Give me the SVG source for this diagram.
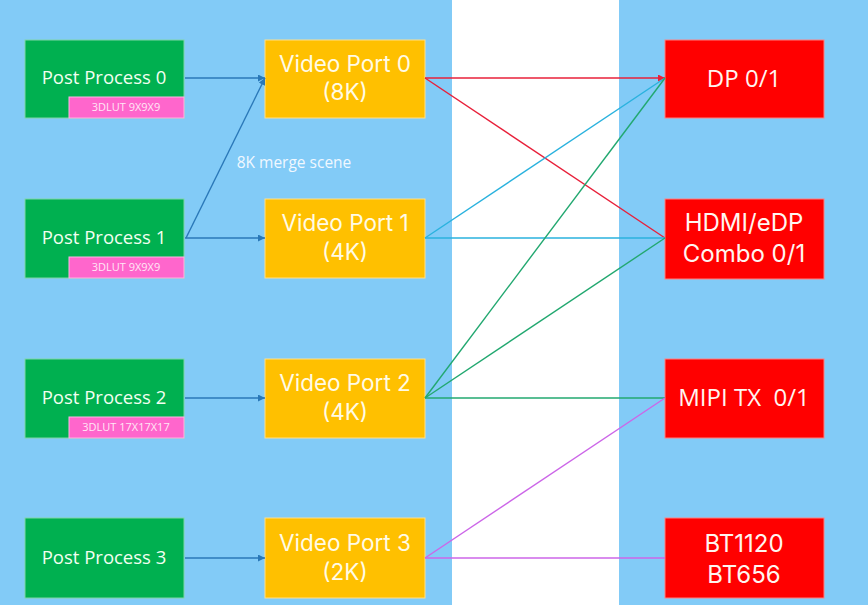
<svg xmlns="http://www.w3.org/2000/svg" width="868" height="605" viewBox="0 0 868 605">
<defs>
<style>
.pp{fill:#00B050;stroke:#7FD6A8;stroke-width:1}
.lut{fill:#FF66CC;stroke:#FFB3E6;stroke-width:1}
.vp{fill:#FFC000;stroke:#FFE08A;stroke-width:1}
.out{fill:#FF0000;stroke:#FF8080;stroke-width:1}
text{font-family:"Open Sans","Noto Sans",sans-serif;text-anchor:middle}
.two{font-family:Inter,"Open Sans",sans-serif}
.tpp{fill:#F2FFF0;font-size:18.5px}
.tlut{fill:#FFE6F5;font-size:11px}
.tvp{fill:#FFFBE6;font-size:22.5px}
.tout{fill:#FFF5F0;font-size:24px}
.tnote{fill:#F0F8FF;font-size:15.5px}
.c{fill:none;stroke-width:1.4}
.blue{stroke:#2A78B8}
.red{stroke:#E8203A}
.cyan{stroke:#2AB2DE}
.grn{stroke:#22A870}
.vio{stroke:#CC66E8}
</style>
<marker id="ab" viewBox="0 0 10 10" refX="10" refY="5" markerWidth="7" markerHeight="7" orient="auto" markerUnits="userSpaceOnUse"><path d="M0,0L10,5L0,10z" fill="#2A78B8"/></marker>
<marker id="ar" viewBox="0 0 10 10" refX="10" refY="5" markerWidth="7" markerHeight="7" orient="auto" markerUnits="userSpaceOnUse"><path d="M0,0L10,5L0,10z" fill="#E8203A"/></marker>
</defs>
<rect x="0" y="0" width="868" height="605" fill="#82CBF7"/>
<rect x="452" y="0" width="167" height="605" fill="#FFFFFF"/>

<g id="pp0"><rect class="pp" x="25" y="40" width="159" height="78"/><text class="tpp" x="104" y="84">Post Process 0</text><rect class="lut" x="69" y="97" width="115" height="21"/><text class="tlut" x="126" y="111">3DLUT 9X9X9</text></g>
<g id="pp1"><rect class="pp" x="25" y="199" width="159" height="79"/><text class="tpp" x="104" y="244">Post Process 1</text><rect class="lut" x="69" y="257" width="115" height="21"/><text class="tlut" x="126" y="271">3DLUT 9X9X9</text></g>
<g id="pp2"><rect class="pp" x="25" y="359" width="159" height="79"/><text class="tpp" x="104" y="404">Post Process 2</text><rect class="lut" x="69" y="417" width="115" height="21"/><text class="tlut" x="126" y="431">3DLUT 17X17X17</text></g>
<g id="pp3"><rect class="pp" x="25" y="518" width="159" height="80"/><text class="tpp" x="104" y="564">Post Process 3</text></g>

<g id="vp0"><rect class="vp" x="265" y="40" width="160" height="78"/><text class="tvp two" x="345" y="72">Video Port 0</text><text class="tvp two" x="345" y="100">(8K)</text></g>
<g id="vp1"><rect class="vp" x="265" y="199" width="160" height="79"/><text class="tvp two" x="345" y="231">Video Port 1</text><text class="tvp two" x="345" y="260">(4K)</text></g>
<g id="vp2"><rect class="vp" x="265" y="359" width="160" height="79"/><text class="tvp two" x="345" y="391">Video Port 2</text><text class="tvp two" x="345" y="420">(4K)</text></g>
<g id="vp3"><rect class="vp" x="265" y="518" width="160" height="80"/><text class="tvp two" x="345" y="551">Video Port 3</text><text class="tvp two" x="345" y="580">(2K)</text></g>

<g id="dp"><rect class="out" x="665" y="40" width="159" height="78"/><text class="tout" x="744" y="87">DP 0/1</text></g>
<g id="hdmi"><rect class="out" x="665" y="199" width="159" height="80"/><text class="tout two" x="744" y="231">HDMI/eDP</text><text class="tout two" x="744" y="262">Combo 0/1</text></g>
<g id="mipi"><rect class="out" x="665" y="359" width="159" height="79"/><text class="tout" x="744" y="406" xml:space="preserve">MIPI TX  0/1</text></g>
<g id="bt"><rect class="out" x="665" y="518" width="159" height="80"/><text class="tout two" x="744" y="552">BT1120</text><text class="tout two" x="744" y="583">BT656</text></g>

<text class="tnote" x="294" y="168">8K merge scene</text>

<g id="connectors">
<line class="c blue" x1="185" y1="78" x2="265" y2="78" marker-end="url(#ab)"/>
<line class="c blue" x1="185" y1="238" x2="265" y2="238" marker-end="url(#ab)"/>
<line class="c blue" x1="186" y1="238" x2="265" y2="78" marker-end="url(#ab)"/>
<line class="c blue" x1="185" y1="398" x2="265" y2="398" marker-end="url(#ab)"/>
<line class="c blue" x1="185" y1="558" x2="265" y2="558" marker-end="url(#ab)"/>
<line class="c red" x1="425" y1="78" x2="665" y2="78" marker-end="url(#ar)"/>
<line class="c red" x1="425" y1="78" x2="665" y2="238"/>
<line class="c cyan" x1="425" y1="238" x2="665" y2="78"/>
<line class="c cyan" x1="425" y1="238" x2="665" y2="238"/>
<line class="c grn" x1="425" y1="398" x2="665" y2="78"/>
<line class="c grn" x1="425" y1="398" x2="665" y2="238"/>
<line class="c grn" x1="425" y1="398" x2="665" y2="398"/>
<line class="c vio" x1="425" y1="558" x2="665" y2="398"/>
<line class="c vio" x1="425" y1="558" x2="665" y2="558"/>
</g>
</svg>
